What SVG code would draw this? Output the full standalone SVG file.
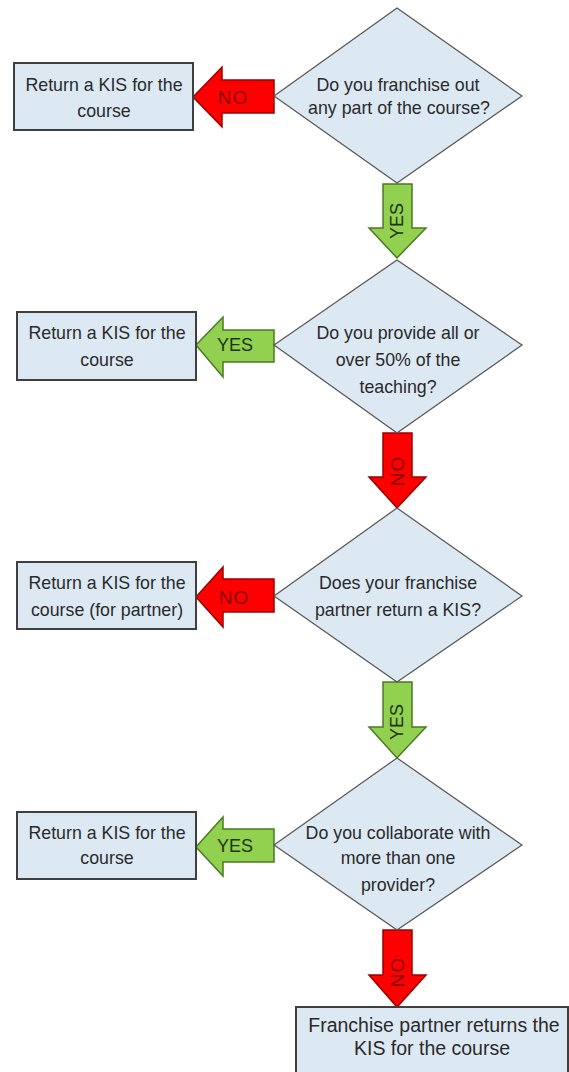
<svg xmlns="http://www.w3.org/2000/svg" width="569" height="1072" viewBox="0 0 569 1072">
<style>
.box{fill:#dce9f3;stroke:#3f3f3f;stroke-width:2}
.dia{fill:#dce9f3;stroke:#555;stroke-width:1.2}
.red{fill:#ff0000;stroke:#9a0000;stroke-width:1.5}
.grn{fill:#92d050;stroke:#4a7a22;stroke-width:1.5}
text{font-family:"Liberation Sans",Arial,sans-serif;font-size:17.8px;fill:#2a2a2a;text-anchor:middle;dominant-baseline:central}
.big{font-size:19.5px}
.lno{fill:#8a0000;font-size:19px;letter-spacing:1px}
.lyes{fill:#1c3310;font-size:18px}
</style>
<rect width="569" height="1072" fill="#fff"/>
<g id="connectors">
<polygon class="red" points="193,97 222,67 222,80 274,80 274,113 222,113 222,127"/>
<text class="lno" x="233" y="97">NO</text>
<polygon class="grn" points="383,184 412,184 412,228 426,228 397,258 369,228 383,228"/>
<text class="lyes" x="397" y="221" transform="rotate(-90 397 221)">YES</text>
<polygon class="grn" points="196,345 223,317 223,330 274,330 274,362 223,362 223,377"/>
<text class="lyes" x="235" y="345">YES</text>
<polygon class="red" points="383,433 412,433 412,477 426,477 397,508 369,477 383,477"/>
<text class="lno" x="397" y="471" transform="rotate(-90 397 471)">NO</text>
<polygon class="red" points="196,597 223,567 223,579 274,579 274,612 223,612 223,627"/>
<text class="lno" x="234" y="597">NO</text>
<polygon class="grn" points="383,682 412,682 412,727 426,727 397,758 369,727 383,727"/>
<text class="lyes" x="397" y="722" transform="rotate(-90 397 722)">YES</text>
<polygon class="grn" points="196,847 223,817 223,829 274,829 274,862 223,862 223,876"/>
<text class="lyes" x="235" y="846">YES</text>
<polygon class="red" points="383,930 412,930 412,975 426,975 397,1007 369,975 383,975"/>
<text class="lno" x="397" y="972" transform="rotate(-90 397 972)">NO</text>
</g>
<g id="q1">
<polygon class="dia" points="397,8 522,96 397,183 274,96"/>
<text x="398" y="85">Do you franchise out</text>
<text x="399" y="108">any part of the course?</text>
</g>
<g id="r1">
<rect class="box" x="14" y="63" width="179" height="67"/>
<text x="104" y="85">Return a KIS for the</text>
<text x="104" y="111">course</text>
</g>
<g id="q2">
<polygon class="dia" points="397,260 522,345 397,433 274,345"/>
<text x="398" y="333">Do you provide all or</text>
<text x="398" y="360">over 50% of the</text>
<text x="398" y="387">teaching?</text>
</g>
<g id="r2">
<rect class="box" x="17" y="312" width="179" height="68"/>
<text x="107" y="333">Return a KIS for the</text>
<text x="107" y="360">course</text>
</g>
<g id="q3">
<polygon class="dia" points="397,508 522,596 397,682 274,596"/>
<text x="398" y="583">Does your franchise</text>
<text x="398" y="610">partner return a KIS?</text>
</g>
<g id="r3">
<rect class="box" x="17" y="562" width="179" height="67"/>
<text x="107" y="583">Return a KIS for the</text>
<text x="107" y="610">course (for partner)</text>
</g>
<g id="q4">
<polygon class="dia" points="397,758 522,845 397,930 274,845"/>
<text x="398" y="833">Do you collaborate with</text>
<text x="398" y="858">more than one</text>
<text x="398" y="885">provider?</text>
</g>
<g id="r4">
<rect class="box" x="17" y="812" width="179" height="67"/>
<text x="107" y="833">Return a KIS for the</text>
<text x="107" y="858">course</text>
</g>
<g id="final">
<rect class="box" x="296" y="1007" width="272" height="70"/>
<text class="big" x="434" y="1025">Franchise partner returns the</text>
<text class="big" x="432" y="1048">KIS for the course</text>
</g>
</svg>
